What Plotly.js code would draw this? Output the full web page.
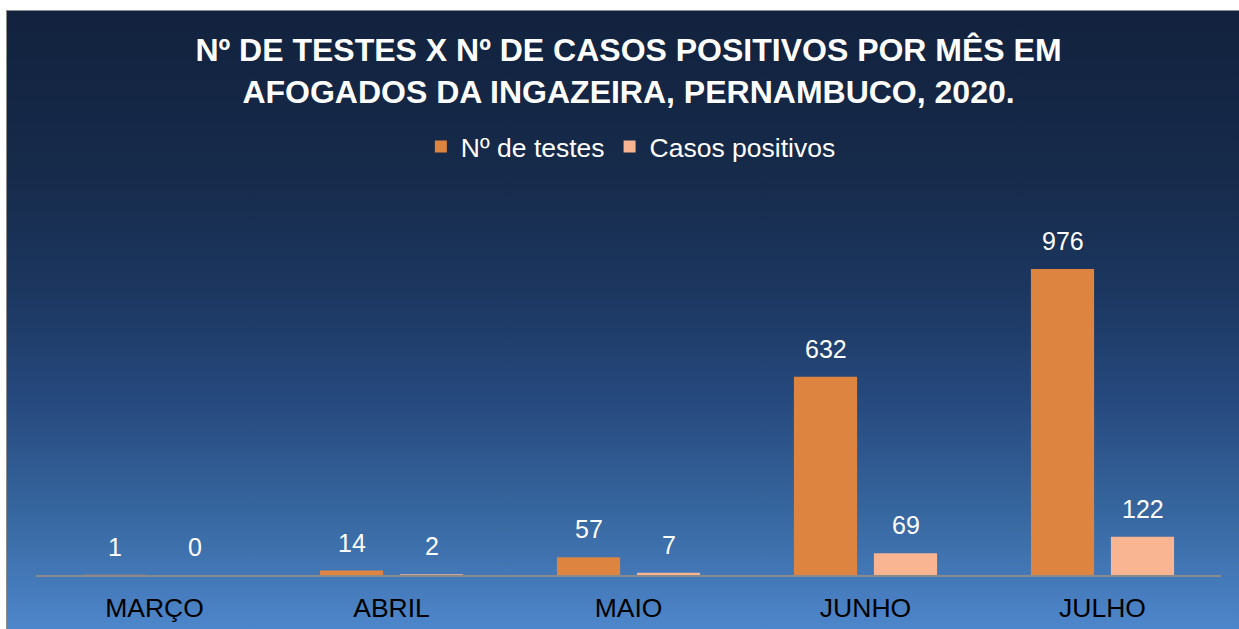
<!DOCTYPE html>
<html>
<head>
<meta charset="utf-8">
<script src="https://cdn.plot.ly/plotly-3.0.1.min.js"></script>
<style>
  html, body { margin: 0; padding: 0; background: #ffffff; }
  #wrap { position: relative; width: 1239px; height: 629px; overflow: hidden; }
  #frame {
    position: absolute; left: 6px; top: 10px; width: 1240px; height: 630px;
    border: 1px solid #8c8c8c; box-sizing: border-box;
    background: linear-gradient(to bottom, #12223e 0%, #162a4a 25%, #1c3760 45%, #26497e 62%, #37679f 80%, #5089cf 100%);
  }
  #chart { position: absolute; left: 0; top: 0; width: 1239px; height: 629px; }
</style>
</head>
<body>
<div id="wrap">
  <div id="frame"></div>
  <div id="chart"></div>
</div>
<script>
const months = ["MARÇO", "ABRIL", "MAIO", "JUNHO", "JULHO"];
const testes = [1, 14, 57, 632, 976];
const positivos = [0, 2, 7, 69, 122];
const seriesNames = ["Nº de testes", "Casos positivos"];
const titleText = "Nº DE TESTES X Nº DE CASOS POSITIVOS POR MÊS EM<br>AFOGADOS DA INGAZEIRA, PERNAMBUCO, 2020.";

const FONT = "Arial, 'Liberation Sans', sans-serif";
const colTestes = "#dd8540";
const colPos = "#f9b591";

const traces = [
  { type: "bar", name: seriesNames[0], x: months, y: testes,
    marker: { color: colTestes }, hoverinfo: "x+y" },
  { type: "bar", name: seriesNames[1], x: months, y: positivos,
    marker: { color: colPos }, hoverinfo: "x+y" }
];

const annotations = [];
months.forEach((m, i) => {
  annotations.push({ x: m, y: testes[i], xref: "x", yref: "y", text: String(testes[i]),
    showarrow: false, yanchor: "bottom", xshift: -40, yshift: 12,
    font: { family: FONT, size: 25, color: "#ffffff" } });
  annotations.push({ x: m, y: positivos[i], xref: "x", yref: "y", text: String(positivos[i]),
    showarrow: false, yanchor: "bottom", xshift: 40, yshift: 12,
    font: { family: FONT, size: 25, color: "#ffffff" } });
});

const layout = {
  width: 1239, height: 629,
  paper_bgcolor: "rgba(0,0,0,0)",
  plot_bgcolor: "rgba(0,0,0,0)",
  margin: { l: 36, r: 18, t: 190, b: 54 },
  title: {
    text: "<b>" + titleText + "</b>",
    font: { family: FONT, size: 32, color: "#ffffff" },
    x: 0.5, xref: "paper", xanchor: "center",
    y: 1 - 61 / 629, yref: "container", yanchor: "top"
  },
  barmode: "group",
  bargap: 0.325,
  bargroupgap: 0.21,
  showlegend: true,
  legend: {
    orientation: "h", x: 0.502, xanchor: "center", y: 1.112, yanchor: "middle",
    font: { family: FONT, size: 26.5, color: "#ffffff" },
    bgcolor: "rgba(0,0,0,0)", itemwidth: 30, traceorder: "normal"
  },
  xaxis: {
    type: "category",
    showline: true, linecolor: "#8a8a8a", linewidth: 2,
    showgrid: false, zeroline: false, ticks: "",
    ticklabelstandoff: 8,
    tickfont: { family: FONT, size: 26.5, color: "#000000" }
  },
  yaxis: {
    range: [0, 1228], showgrid: false, zeroline: false, showline: false,
    showticklabels: false, ticks: ""
  },
  annotations: annotations
};

Plotly.newPlot("chart", traces, layout, { displayModeBar: false, staticPlot: true });
</script>
</body>
</html>
